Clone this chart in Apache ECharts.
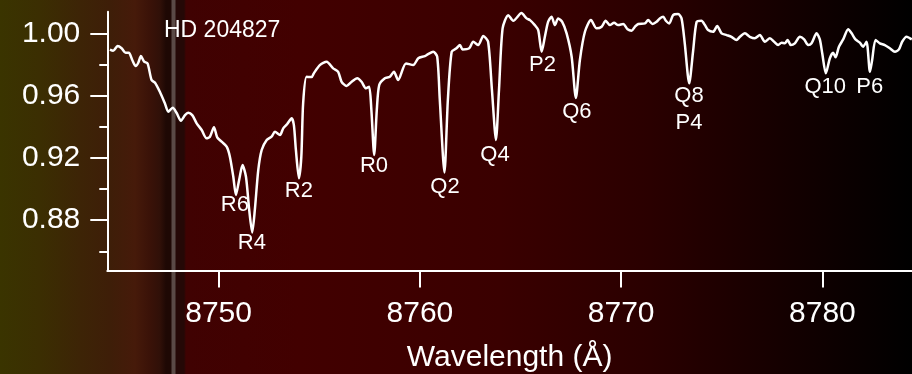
<!DOCTYPE html>
<html>
<head>
<meta charset="utf-8">
<script src="https://cdn.jsdelivr.net/npm/echarts@6/dist/echarts.min.js"></script>
<style>
html,body{margin:0;padding:0;}
#chart{width:912px;height:374px;
background:linear-gradient(to right,
 #3a3400 0px,#3b2e02 40px,#3d2406 80px,#3e1e08 110px,#461a0a 135px,#3a1208 150px,#301008 160px,
 #1e0804 166px,#1e0804 171px,#5a4a46 172px,#5a4a46 175px,#250806 176px,#250806 184px,#400202 186px,
 #420000 300px,#3a0000 500px,#2a0000 650px,#150000 780px,#000000 912px);}
</style>
</head>
<body>
<div id="chart"></div>
<script>
const wavelength = [8744.60,8744.76,8744.98,8745.18,8745.38,8745.54,8745.71,8745.88,8746.01,8746.14,
8746.30,8746.47,8746.67,8746.84,8747.08,8747.33,8747.50,8747.72,8747.91,8748.13,
8748.33,8748.49,8748.69,8748.91,8749.16,8749.40,8749.57,8749.77,8749.93,8750.15,
8750.40,8750.56,8750.73,8750.86,8751.02,8751.19,8751.36,8751.52,8751.67,8751.80,
8751.97,8752.14,8752.39,8752.63,8752.80,8753.05,8753.21,8753.41,8753.63,8753.74,
8753.84,8753.99,8754.11,8754.20,8754.37,8754.62,8754.73,8755.03,8755.37,8755.69,
8755.94,8756.11,8756.36,8756.61,8756.89,8757.10,8757.32,8757.48,8757.59,8757.73,
8757.86,8757.98,8758.26,8758.51,8758.71,8758.92,8759.31,8759.67,8759.92,8760.25,
8760.41,8760.66,8760.86,8760.99,8761.22,8761.39,8761.58,8761.82,8761.99,8762.12,
8762.45,8762.65,8762.90,8763.15,8763.39,8763.58,8763.78,8763.93,8764.11,8764.39,
8764.64,8765.05,8765.30,8765.47,8765.71,8765.88,8766.05,8766.21,8766.37,8766.54,
8766.71,8766.87,8767.07,8767.29,8767.54,8767.75,8767.95,8768.20,8768.50,8768.78,
8769.03,8769.23,8769.44,8769.65,8769.85,8770.10,8770.32,8770.52,8770.68,8770.85,
8771.18,8771.34,8771.56,8771.76,8771.92,8772.09,8772.22,8772.39,8772.58,8772.83,
8773.00,8773.16,8773.38,8773.58,8773.75,8773.99,8774.16,8774.32,8774.57,8774.77,
8774.99,8775.24,8775.48,8775.73,8775.90,8776.15,8776.39,8776.64,8776.89,8777.14,
8777.39,8777.60,8777.80,8777.97,8778.13,8778.27,8778.43,8778.63,8778.88,8779.09,
8779.29,8779.46,8779.71,8779.87,8779.99,8780.17,8780.37,8780.53,8780.65,8780.82,
8781.03,8781.28,8781.45,8781.64,8781.86,8782.02,8782.19,8782.36,8782.47,8782.64,
8782.85,8783.10,8783.35,8783.60,8783.80,8783.96,8784.18,8784.44];

const flux = [0.9896,0.9888,0.9918,0.9904,0.9875,0.9875,0.9829,0.9790,0.9811,0.9854,
0.9818,0.9807,0.9700,0.9683,0.9625,0.9551,0.9497,0.9522,0.9490,0.9439,
0.9475,0.9490,0.9475,0.9422,0.9379,0.9326,0.9336,0.9397,0.9332,0.9304,
0.9272,0.9208,0.9079,0.8962,0.9058,0.9154,0.9079,0.8866,0.8721,0.8866,
0.9122,0.9251,0.9315,0.9336,0.9368,0.9347,0.9390,0.9418,0.9454,0.9411,
0.9251,0.9069,0.9208,0.9551,0.9721,0.9719,0.9743,0.9796,0.9818,0.9775,
0.9753,0.9689,0.9662,0.9689,0.9711,0.9689,0.9647,0.9657,0.9508,0.9219,
0.9508,0.9668,0.9711,0.9721,0.9753,0.9700,0.9807,0.9796,0.9840,0.9854,
0.9867,0.9882,0.9850,0.9572,0.9106,0.9572,0.9882,0.9904,0.9925,0.9897,
0.9904,0.9946,0.9925,0.9983,0.9946,0.9636,0.9315,0.9636,1.0032,1.0117,
1.0081,1.0130,1.0096,1.0085,1.0053,1.0021,0.9882,0.9978,1.0074,1.0107,
1.0053,1.0096,1.0074,1.0000,0.9850,0.9585,0.9829,1.0010,1.0085,1.0032,
1.0042,1.0081,1.0053,1.0068,1.0053,1.0060,1.0026,1.0017,1.0042,1.0060,
1.0064,1.0085,1.0060,1.0074,1.0096,1.0107,1.0081,1.0064,1.0117,1.0124,
1.0096,0.9936,0.9679,0.9893,1.0074,1.0081,1.0053,1.0021,1.0010,1.0047,
1.0000,0.9989,0.9978,0.9957,0.9978,1.0000,0.9978,0.9968,0.9989,0.9946,
0.9968,0.9946,0.9925,0.9940,0.9936,0.9957,0.9925,0.9936,0.9978,0.9961,
0.9925,0.9936,1.0000,0.9961,0.9872,0.9743,0.9840,0.9875,0.9846,0.9914,
0.9961,1.0026,1.0000,0.9961,0.9940,0.9914,0.9946,0.9753,0.9829,0.9957,
0.9936,0.9925,0.9904,0.9882,0.9897,0.9946,0.9978,0.9961];

const lineLabels = ['R6','R4','R2','R0','Q2','Q4','P2','Q6','Q8\nP4','Q10','P6'];
const lineLabelWave = [8750.81,8751.65,8753.99,8757.72,8761.25,8763.73,8766.09,8767.80,8773.37,8780.14,8782.35];
const lineLabelFlux = [0.8898,0.8654,0.8988,0.9148,0.9013,0.9222,0.9796,0.9498,0.9509,0.9658,0.9658];

const xTicks = [8750,8760,8770,8780];
const yMajorTicks = [0.88,0.92,0.96,1.00];
const yMinorTicks = [0.86,0.90,0.94,0.98];
const starName = 'HD 204827';
const xTitle = 'Wavelength (Å)';

const FONT = '"Liberation Sans", Arial, sans-serif';
const X_MIN = 8744.47, X_MAX = 8784.45, Y_MIN = 0.8477, Y_MAX = 1.0139;

const chart = echarts.init(document.getElementById('chart'), null, {renderer:'canvas'});
const spectrum = wavelength.map((w,i)=>[w, flux[i]]);
const annot = lineLabels.map((t,i)=>({name:t, value:[lineLabelWave[i], lineLabelFlux[i]]}));

const white = '#ffffff';
chart.setOption({
  backgroundColor: 'transparent',
  animation: false,
  grid: {left:107.3, right:0, top:11.7, bottom:103.5, containLabel:false, outerBoundsMode:'none'},
  graphic: [{type:'text', left:164, top:19, z:10,
    style:{text: starName, fill: white, font: '23px ' + FONT}}],
  xAxis: {
    type:'value', min:X_MIN, max:X_MAX,
    axisLine:{show:true, onZero:false, lineStyle:{color:white, width:2}},
    axisTick:{show:true, length:17, customValues:xTicks, lineStyle:{color:white, width:2}},
    axisLabel:{show:true, customValues:xTicks, color:white, fontSize:30, fontFamily:FONT, margin:28,
      formatter: v => String(Math.round(v))},
    splitLine:{show:false},
    name: xTitle, nameLocation:'middle', nameGap:72,
    nameTextStyle:{color:white, fontSize:30, fontFamily:FONT}
  },
  yAxis: [{
    type:'value', min:Y_MIN, max:Y_MAX,
    axisLine:{show:true, onZero:false, lineStyle:{color:white, width:2}},
    axisTick:{show:true, length:17, customValues:yMajorTicks, lineStyle:{color:white, width:2}},
    axisLabel:{show:true, customValues:yMajorTicks, color:white, fontSize:30, fontFamily:FONT, margin:27,
      formatter: v => v.toFixed(2)},
    splitLine:{show:false}
  },{
    type:'value', min:Y_MIN, max:Y_MAX, position:'left', offset:0,
    axisLine:{show:false},
    axisTick:{show:true, length:8, customValues:yMinorTicks, lineStyle:{color:white, width:2}},
    axisLabel:{show:false},
    splitLine:{show:false}
  }],
  series: [{
    type:'line', data: spectrum, showSymbol:false, smooth:0.25, clip:false,
    lineStyle:{color:white, width:2.5}, z:3
  },{
    type:'scatter', data: annot, symbolSize:0, itemStyle:{color:white, opacity:1}, z:4, silent:true,
    label:{show:true, position:'inside', formatter:'{b}', color:white, opacity:1, fontSize:22, fontFamily:FONT,
      lineHeight:27, align:'center', verticalAlign:'middle', textBorderWidth:0, textShadowBlur:0}
  }]
});
</script>
</body>
</html>
